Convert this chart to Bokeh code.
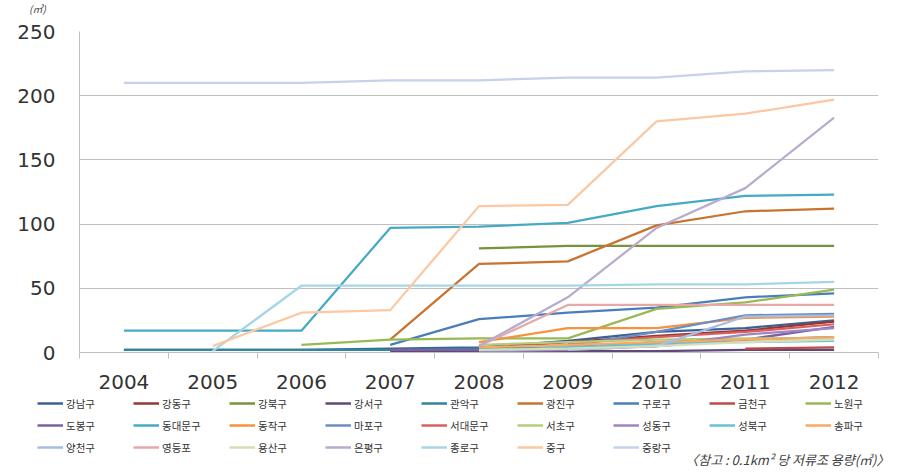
import math
from bokeh.plotting import figure
from bokeh.layouts import column
from bokeh.models import Range1d, FixedTicker, Legend, LegendItem, Label
from bokeh.embed import file_html
from bokeh.resources import INLINE

nan = float("nan")

years = ["2004", "2005", "2006", "2007", "2008", "2009", "2010", "2011", "2012"]
y_ticks = [0, 50, 100, 150, 200, 250]

districts = ["강남구", "강동구", "강북구", "강서구", "관악구", "광진구", "구로구", "금천구", "노원구",
             "도봉구", "동대문구", "동작구", "마포구", "서대문구", "서초구", "성동구", "성북구", "송파구",
             "양천구", "영등포", "용산구", "은평구", "종로구", "중구", "중랑구"]

gangnam = [2, 2, 2, 3, 4, 9, 16, 19, 25]
gangdong = [nan, nan, nan, nan, 3, 8, 13, 17, 24]
gangbuk = [nan, nan, nan, nan, 81, 83, 83, 83, 83]
gangseo = [nan, nan, nan, 1, 1, 1, 1, 2, 2]
gwanak = [2, 2, 2, 2, 3, 4, 8, 10, 12]
gwangjin = [nan, nan, nan, 10, 69, 71, 99, 110, 112]
guro = [nan, nan, nan, 6, 26, 31, 35, 43, 46]
geumcheon = [nan, nan, nan, nan, nan, nan, nan, 3, 4]
nowon = [nan, nan, 6, 10, 11, 11, 34, 39, 49]
dobong = [nan, nan, nan, 2, 2, 3, 5, 10, 20]
dongdaemun = [17, 17, 17, 97, 98, 101, 114, 122, 123]
dongjak = [nan, nan, nan, nan, 8, 19, 19, 27, 28]
mapo = [nan, nan, nan, nan, nan, 5, 16, 29, 30]
seodaemun = [nan, nan, nan, nan, nan, 7, 12, 16, 22]
seocho = [nan, nan, nan, nan, 6, 8, 10, 11, 11]
seongdong = [nan, nan, nan, nan, 1, 2, 5, 14, 19]
seongbuk = [nan, nan, nan, nan, 2, 4, 7, 8, 9]
songpa = [nan, nan, nan, nan, 4, 6, 8, 10, 12]
yangcheon = [nan, nan, nan, nan, nan, 2, 5, 28, 29]
yeongdeungpo = [nan, nan, nan, nan, 5, 37, 37, 37, 37]
yongsan = [nan, nan, nan, nan, 2, 3, 5, 8, 10]
eunpyeong = [nan, nan, nan, nan, 5, 43, 97, 128, 183]
jongno = [nan, 1, 52, 52, 52, 52, 53, 53, 55]
junggu = [nan, 5, 31, 33, 114, 115, 180, 186, 197]
jungnang = [210, 210, 210, 212, 212, 214, 214, 219, 220]

series = [gangnam, gangdong, gangbuk, gangseo, gwanak, gwangjin, guro, geumcheon, nowon,
          dobong, dongdaemun, dongjak, mapo, seodaemun, seocho, seongdong, seongbuk, songpa,
          yangcheon, yeongdeungpo, yongsan, eunpyeong, jongno, junggu, jungnang]

colors = ["#3A6296", "#953735", "#77933C", "#5F497A", "#31859C", "#C8732F", "#4A7EBB", "#BE4B48", "#98B954",
          "#7D60A0", "#46AAC5", "#F69240", "#6A8DC4", "#D9605E", "#B4CD7C", "#9E86C0", "#67C1D8", "#F9A865",
          "#A7BDE2", "#E6A9A7", "#D3DFB7", "#B9ABCF", "#A4D6E6", "#FBC8A2", "#C5D2E8"]

unit_text = "(㎥)"
note_text = "〈참고 : 0.1km² 당 저류조 용량(㎥)〉"

W = 890
H0 = 16
H1 = 378
H2 = 74


def blank_figure(h):
    f = figure(width=W, height=h, output_backend="svg", toolbar_location=None,
               x_range=Range1d(0, W), y_range=Range1d(0, h),
               x_axis_type=None, y_axis_type=None,
               min_border_left=0, min_border_right=0, min_border_top=0, min_border_bottom=0)
    f.outline_line_color = None
    f.background_fill_color = "white"
    f.border_fill_color = "white"
    f.xgrid.visible = False
    f.ygrid.visible = False
    f.frame_align = False
    f.title.visible = False
    return f


# unit label strip above the chart
p0 = blank_figure(H0)
p0.add_layout(Label(x=37, y=H0 / 2, text=unit_text, text_font_size="10px", text_font_style="italic",
                    text_align="center", text_baseline="middle", text_color="#404040",
                    text_font="Noto Sans CJK KR"))

# main chart
p = figure(width=W, height=H1, output_backend="svg", toolbar_location=None,
           x_range=Range1d(-0.5, len(years) - 0.5), y_range=Range1d(0, 250),
           min_border_left=79, min_border_right=12, min_border_top=15, min_border_bottom=42)
p.outline_line_color = None
p.background_fill_color = "white"
p.border_fill_color = "white"
p.frame_align = False
p.title.visible = False

xs = list(range(len(years)))
for name, vals, col in zip(districts, series, colors):
    p.line(xs, vals, line_color=col, line_width=2.25)

p.xaxis.ticker = FixedTicker(ticks=xs, minor_ticks=[i - 0.5 for i in range(len(years) + 1)])
p.xaxis.major_label_overrides = {i: y for i, y in enumerate(years)}
p.xaxis.major_tick_out = 0
p.xaxis.major_tick_in = 0
p.xaxis.minor_tick_out = 6
p.xaxis.minor_tick_in = 0
p.xaxis.minor_tick_line_color = "#BFBFBF"
p.xaxis.axis_line_color = "#BFBFBF"
p.xaxis.major_label_text_font_size = "20px"
p.xaxis.major_label_text_font = "DejaVu Sans"
p.xaxis.major_label_text_color = "#333333"
p.xaxis.major_label_standoff = 16

p.yaxis.ticker = FixedTicker(ticks=y_ticks)
p.yaxis.major_tick_out = 0
p.yaxis.major_tick_in = 0
p.yaxis.minor_tick_line_color = None
p.yaxis.axis_line_color = "#BFBFBF"
p.yaxis.major_label_text_font_size = "20px"
p.yaxis.major_label_text_font = "DejaVu Sans"
p.yaxis.major_label_text_color = "#333333"
p.yaxis.major_label_standoff = 24

p.xgrid.grid_line_color = None
p.ygrid.grid_line_color = "#BFBFBF"
p.ygrid.grid_line_width = 1

# legend strip below the chart
p2 = blank_figure(H2)
swatches = [p2.line([nan], [nan], line_color=col, line_width=2.5) for col in colors]

row_bottoms = [H2 - 18, H2 - 40, H2 - 62]
for k in range(3):
    items = [LegendItem(label=districts[i], renderers=[swatches[i]])
             for i in range(k * 9, min((k + 1) * 9, len(districts)))]
    leg = Legend(items=items, orientation="horizontal", location=(37, row_bottoms[k]),
                 glyph_width=26, glyph_height=18, label_height=18, label_standoff=3,
                 label_width=60, spacing=7, padding=0, margin=0,
                 border_line_color=None, background_fill_alpha=0,
                 label_text_font_size="10.5px", label_text_font="Noto Sans CJK KR",
                 label_text_color="#333333")
    p2.add_layout(leg, "center")

p2.add_layout(Label(x=889, y=H2 - 65, text=note_text, text_font_size="13px",
                    text_font_style="italic", text_align="right", text_baseline="middle",
                    text_color="#404040", text_font="Noto Sans CJK KR"))

layout = column(p0, p, p2, spacing=0)
open("out.html", "w").write(file_html(layout, INLINE))
